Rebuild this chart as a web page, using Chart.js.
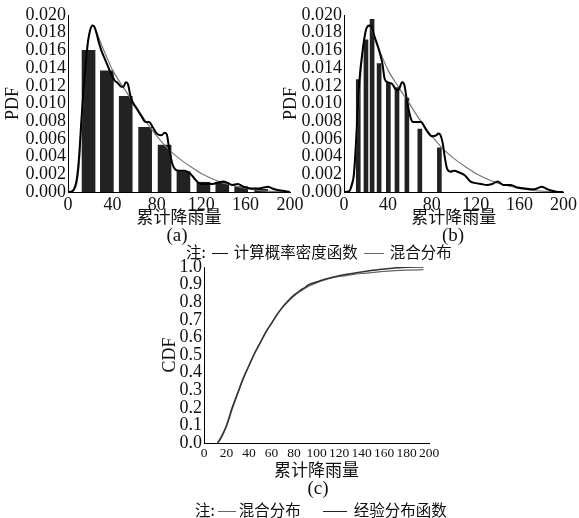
<!DOCTYPE html>
<html>
<head>
<meta charset="utf-8">
<script src="https://cdn.jsdelivr.net/npm/chart.js@4"></script>
<style>
  body { margin: 0; background: #fff; width: 579px; height: 518px; position: relative; overflow: hidden; }
  canvas { position: absolute; }
  .lab { position: absolute; font-family: "Liberation Serif", serif; font-size: 19px; color: #111; transform: translate(-50%, -50%); white-space: nowrap; }
  .note { position: absolute; font-family: "Noto Sans CJK SC", sans-serif; font-size: 15.5px; color: #111; white-space: nowrap; transform: translateY(-50%); }
  .dash { display: inline-block; height: 0; vertical-align: middle; margin: 0 6px; }
</style>
</head>
<body>
<canvas id="chartA" width="310" height="227" style="left:0;top:0"></canvas>
<canvas id="chartB" width="299" height="227" style="left:280px;top:0"></canvas>
<canvas id="chartC" width="300" height="225" style="left:150px;top:255px"></canvas>

<div class="lab" style="left:177px;top:235px">(a)</div>
<div class="lab" style="left:453px;top:235px">(b)</div>
<div class="lab" style="left:318px;top:488px">(c)</div>
<div class="note" style="left:186px;top:251px">注:<span class="dash" style="width:16px;border-top:1.5px solid #111"></span>计算概率密度函数<span class="dash" style="width:20px;border-top:1px solid #666"></span>混合分布</div>
<div class="note" style="left:195px;top:509px">注:<span class="dash" style="width:18px;border-top:1px solid #666;margin:0 3px"></span>混合分布<span class="dash" style="width:24px;border-top:1.5px solid #222;margin:0 7px 0 22px"></span>经验分布函数</div>

<script>
// (a) 直方图 + 计算概率密度 + 混合分布
let binCentersA = [18.5, 35, 52, 69.5, 87, 104, 122, 139, 156, 174];
let binHeightsA = [0.016, 0.0137, 0.0108, 0.0073, 0.0053, 0.0023, 0.0011, 0.0011, 0.0006, 0.0003];

let kdeXA = [0,4,6,8,10,12,14,16,18,20,22,24,26,28,30,34,38,42,45,48,50,52,54,56,58,62,66,70,73,76,80,84,87,89,91,94,97,100,105,110,114,118,122,130,136,140,144,148,153,158,165,172,176,180,184,190,196,200];
let kdeYA = [0,0.0001,0.0005,0.0015,0.004,0.008,0.0115,0.0145,0.017,0.0183,0.0188,0.0186,0.0178,0.0168,0.016,0.0148,0.0136,0.0126,0.0123,0.0119,0.0119,0.0124,0.0122,0.011,0.0102,0.0094,0.0086,0.0079,0.0079,0.0074,0.0066,0.0064,0.0067,0.0065,0.005,0.0032,0.0025,0.0024,0.0024,0.0021,0.0015,0.001,0.0009,0.0009,0.0011,0.0012,0.001,0.0008,0.0009,0.0006,0.0004,0.0004,0.0005,0.0006,0.0004,0.0002,0.0001,0];

// 混合分布 (a)(b) 共用
let mixX = [0,5,8,10,12,14,16,18,20,22,24,26,30,35,40,50,60,70,80,90,100,110,120,130,140,150,160,170,180,190,200];
let mixY = [0,0.0002,0.001,0.003,0.007,0.011,0.0145,0.017,0.0183,0.0188,0.0186,0.018,0.0167,0.0152,0.0138,0.0118,0.0099,0.008,0.0063,0.0049,0.0038,0.0029,0.0021,0.0015,0.001,0.0007,0.0004,0.0002,0.0001,0.00005,0];

// (b)
let barXB = [13, 20, 25.6, 32, 40.4, 48.3, 57.3, 69.1, 86.9];
let barYB = [0.0127, 0.0172, 0.0195, 0.0145, 0.0123, 0.0118, 0.0106, 0.0071, 0.005];

let kdeXB = [0,5,7,9,12,14,17,20,23,25,28,32,35,37,40,44,48,50,53,55,58,63,66,70,75,80,84,86,88,90,92,94,97,100,105,110,115,120,125,130,135,140,145,152,158,165,172,176,180,184,188,195,200];
let kdeYB = [0,0.0001,0.0008,0.002,0.008,0.0125,0.016,0.0183,0.0188,0.0186,0.0175,0.016,0.0145,0.0128,0.0124,0.0122,0.0115,0.0116,0.0124,0.0121,0.0098,0.0079,0.0079,0.0079,0.007,0.0063,0.0064,0.0066,0.0064,0.0055,0.0038,0.0026,0.0023,0.0024,0.0022,0.0019,0.0012,0.001,0.0009,0.0008,0.0009,0.0012,0.0008,0.0008,0.0005,0.0004,0.0003,0.0004,0.0006,0.0004,0.0002,0,0];

// (c) CDF
let cdfEmpX = [12,15,20,25,30,35,40,45,50,55,60,65,70,75,80,85,90,93,100,110,120,130,140,150,160,170,180,195];
let cdfEmpY = [0,0.03,0.1,0.2,0.285,0.37,0.44,0.51,0.57,0.63,0.68,0.73,0.775,0.81,0.84,0.865,0.885,0.9,0.915,0.935,0.95,0.962,0.972,0.981,0.989,0.995,0.999,1.0];
let cdfMixX = [12,15,20,25,30,35,40,45,50,55,60,65,70,75,80,85,90,95,100,110,120,130,140,150,160,170,180,195];
let cdfMixY = [0,0.025,0.095,0.19,0.28,0.365,0.44,0.51,0.57,0.63,0.68,0.73,0.77,0.805,0.835,0.86,0.88,0.897,0.91,0.932,0.946,0.955,0.963,0.969,0.975,0.979,0.982,0.985];

const serif = "'Liberation Serif', 'Times New Roman', serif";
const cjk = "'Noto Sans CJK SC', sans-serif";

function pts(xs, ys) {
  return xs.map((x, i) => ({ x: x, y: ys[i] }));
}

function lineSet(xs, ys, color, width, order) {
  return {
    type: "line",
    data: pts(xs, ys),
    borderColor: color,
    borderWidth: width,
    pointRadius: 0,
    cubicInterpolationMode: "monotone",
    order: order,
  };
}

function axes(opt) {
  return {
    x: {
      type: "linear",
      min: 0, max: 200, offset: false,
      grid: { display: false, drawTicks: false },
      border: { display: true, color: "#000", width: 1 },
      ticks: { stepSize: opt.xStep, autoSkip: false, maxRotation: 0, padding: 2, color: "#111", font: { family: serif, size: opt.xFont } },
      title: { display: true, text: "累计降雨量", color: "#111", padding: { top: 0, bottom: 0 }, font: { family: cjk, size: 17 } },
      afterFit: (s) => { s.height = opt.xH; },
    },
    y: {
      min: 0, max: opt.yMax,
      grid: { display: false, drawTicks: false },
      border: { display: true, color: "#000", width: 1 },
      ticks: { stepSize: opt.yStep, autoSkip: false, padding: 2, color: "#111", font: { family: serif, size: 18, lineHeight: 1 },
        callback: (v) => v.toFixed(opt.dec) },
      title: { display: true, text: opt.yTitle, color: "#111", padding: { top: opt.yTitlePad, bottom: 0 }, font: { family: serif, size: 18 } },
      afterFit: (s) => { s.width = opt.yW; },
    },
  };
}

function baseOptions(opt) {
  return {
    responsive: false,
    animation: false,
    devicePixelRatio: 1,
    layout: { padding: opt.pad },
    plugins: { legend: { display: false }, tooltip: { enabled: false } },
    scales: axes(opt),
  };
}

// (a)
new Chart(document.getElementById("chartA").getContext("2d"), {
  type: "bar",
  data: {
    datasets: [
      lineSet(kdeXA, kdeYA, "#000", 2, 0),
      lineSet(mixX, mixY, "#777", 1.2, 1),
      { data: pts(binCentersA, binHeightsA), backgroundColor: "#222", barThickness: 13, order: 2 },
    ],
  },
  options: baseOptions({ pad: { left: 0, right: 20, top: 15, bottom: 0 }, xStep: 40, xFont: 18, xH: 35, yMax: 0.02, yStep: 0.002, dec: 3, yTitle: "PDF", yTitlePad: 2, yW: 68 }),
});

// (b)
new Chart(document.getElementById("chartB").getContext("2d"), {
  type: "bar",
  data: {
    datasets: [
      lineSet(kdeXB, kdeYB, "#000", 2, 0),
      lineSet(mixX, mixY, "#777", 1.2, 1),
      { data: pts(barXB, barYB), backgroundColor: "#222", barThickness: 4, order: 2 },
    ],
  },
  options: baseOptions({ pad: { left: 0, right: 14, top: 15, bottom: 0 }, xStep: 40, xFont: 18, xH: 35, yMax: 0.02, yStep: 0.002, dec: 3, yTitle: "PDF", yTitlePad: 0, yW: 64 }),
});

// (c)
new Chart(document.getElementById("chartC").getContext("2d"), {
  type: "line",
  data: {
    datasets: [
      lineSet(cdfMixX, cdfMixY, "#666", 1.2, 1),
      lineSet(cdfEmpX, cdfEmpY, "#333", 1.5, 0),
    ],
  },
  options: baseOptions({ pad: { left: 0, right: 21, top: 12, bottom: 0 }, xStep: 20, xFont: 13.5, xH: 37, yMax: 1.0, yStep: 0.1, dec: 1, yTitle: "CDF", yTitlePad: 9, yW: 54 }),
});
</script>
</body>
</html>
